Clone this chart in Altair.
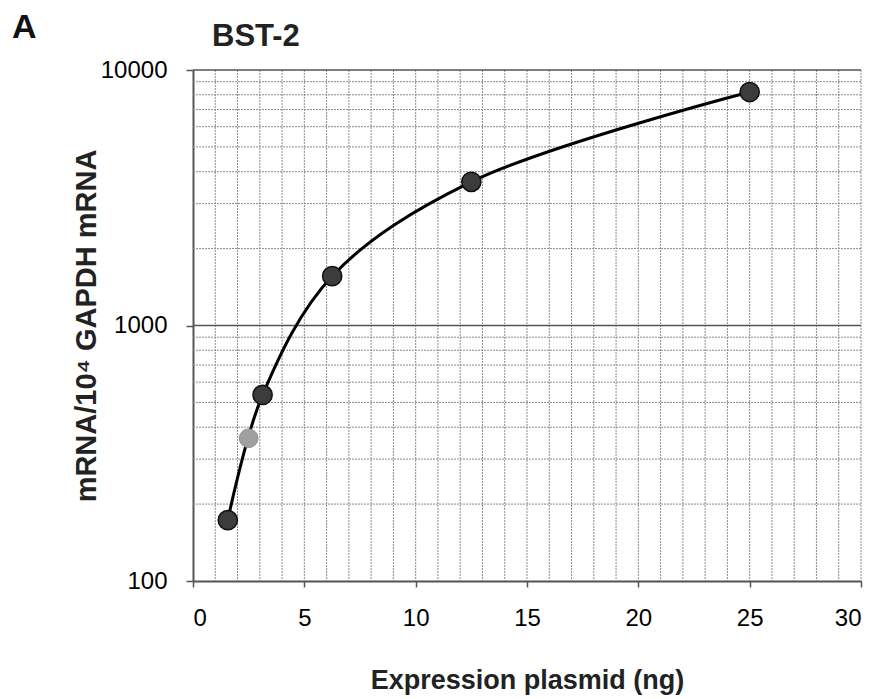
import altair as alt
import pandas as pd

# Data
dose = [1.5625, 3.125, 6.25, 12.5, 25]
mrna = [173, 535, 1560, 3650, 8200]
gray_dose = [2.5]
gray_mrna = [362]

x_ticks = [0, 5, 10, 15, 20, 25, 30]
y_ticks = [100, 1000, 10000]
x_grid = list(range(1, 31))
y_minor = [200, 300, 400, 500, 600, 700, 800, 900,
           2000, 3000, 4000, 5000, 6000, 7000, 8000, 9000]
y_major = [1000, 10000]

FONT = "Liberation Sans"

xscale = alt.Scale(domain=[0, 30], nice=False, zero=False)
yscale = alt.Scale(type="log", domain=[100, 10000], nice=False)

xaxis = alt.Axis(values=x_ticks, grid=False, title="Expression plasmid (ng)",
                 labelFont=FONT, labelFontSize=24, labelColor="black",
                 labelPadding=19, tickSize=6, tickColor="#555", tickWidth=1.5,
                 domainColor="#555", domainWidth=2,
                 titleFont=FONT, titleFontSize=27, titleFontWeight="bold",
                 titleColor="#222", titleBaseline="alphabetic", titleY=107)
yaxis = alt.Axis(values=y_ticks, grid=False, format="d",
                 title="mRNA/10\u2074 GAPDH mRNA",
                 labelFont=FONT, labelFontSize=24, labelColor="black",
                 labelPadding=19, tickSize=7, tickColor="#555", tickWidth=1.5,
                 domainColor="#555", domainWidth=2,
                 titleFont=FONT, titleFontSize=29, titleFontWeight="bold",
                 titleColor="#222", titleBaseline="alphabetic", titleX=-98)


def X(field="x"):
    return alt.X(f"{field}:Q", scale=xscale, axis=xaxis)


def Y(field="y"):
    return alt.Y(f"{field}:Q", scale=yscale, axis=yaxis)


vgrid = alt.Chart(pd.DataFrame({"x": x_grid})).mark_rule(
    color="#8c8c8c", strokeWidth=1, strokeDash=[2, 1]
).encode(x=X())

hgrid = alt.Chart(pd.DataFrame({"y": y_minor})).mark_rule(
    color="#8c8c8c", strokeWidth=1, strokeDash=[2, 1]
).encode(y=Y())

hmajor = alt.Chart(pd.DataFrame({"y": y_major})).mark_rule(
    color="#555", strokeWidth=1.5
).encode(y=Y())

main_df = pd.DataFrame({"x": dose, "y": mrna})
line = alt.Chart(main_df).mark_line(
    color="black", strokeWidth=3, interpolate="catmull-rom"
).encode(x=X(), y=Y())

pts = alt.Chart(main_df).mark_point(
    filled=True, fill="#3c3c3c", stroke="#111", strokeWidth=1.5,
    size=370, opacity=1, shape="circle"
).encode(x=X(), y=Y())

gray_pts = alt.Chart(pd.DataFrame({"x": gray_dose, "y": gray_mrna})).mark_point(
    filled=True, fill="#a0a0a0", stroke="#909090", strokeWidth=1,
    size=350, opacity=1, shape="circle"
).encode(x=X(), y=Y())

label_a = alt.Chart(pd.DataFrame({"t": ["A"]})).mark_text(
    font=FONT, fontSize=34, fontWeight="bold", color="#111",
    align="left", baseline="alphabetic"
).encode(text="t:N", x=alt.value(-181), y=alt.value(-32))

label_t = alt.Chart(pd.DataFrame({"t": ["BST-2"]})).mark_text(
    font=FONT, fontSize=31, fontWeight="bold", color="#222",
    align="left", baseline="alphabetic"
).encode(text="t:N", x=alt.value(19), y=alt.value(-24))

chart = alt.layer(vgrid, hgrid, hmajor, line, gray_pts, pts, label_a, label_t).properties(
    width=668, height=511,
    autosize=alt.AutoSizeParams(type="none"),
    padding={"left": 185, "top": 62, "right": 10, "bottom": 115},
    background="white",
).configure_view(stroke=None)

chart.save("out.html", embed_options={"renderer": "svg", "actions": False})
